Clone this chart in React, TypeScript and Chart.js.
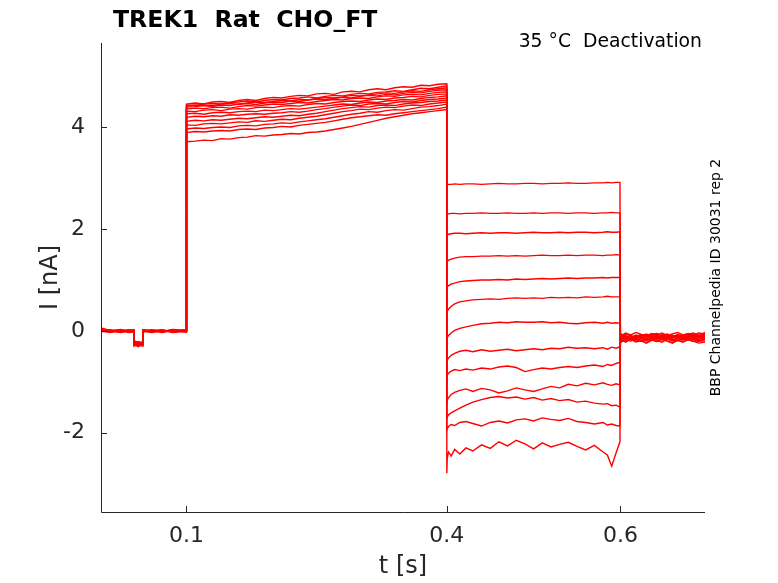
import React, { useEffect, useRef } from "react";
import Chart from "chart.js/auto";

// sample times [s] for each protocol segment
const baseT = [0.0015, 0.012, 0.024, 0.034, 0.0393, 0.0396, 0.0445, 0.0495, 0.0498, 0.06, 0.072, 0.084, 0.0995];
const stepT = [
  0.1, 0.11, 0.12, 0.13, 0.14, 0.15, 0.16, 0.17, 0.18, 0.19, 0.2, 0.21, 0.22, 0.23, 0.24, 0.25,
  0.26, 0.27, 0.28, 0.29, 0.3, 0.31, 0.32, 0.33, 0.34, 0.35, 0.36, 0.37, 0.38, 0.39, 0.4,
];
const deactT = [
  0.4, 0.4005, 0.402, 0.405, 0.409, 0.415, 0.422, 0.43, 0.44, 0.45, 0.46, 0.47, 0.48, 0.49,
  0.5, 0.51, 0.52, 0.53, 0.54, 0.55, 0.56, 0.57, 0.58, 0.585, 0.59, 0.595, 0.5995,
];
const tailT = [
  0.6, 0.601, 0.606, 0.612, 0.618, 0.624, 0.63, 0.636, 0.642, 0.648, 0.654, 0.66, 0.666, 0.672,
  0.678, 0.684, 0.69, 0.6975,
];

// currents [nA], one row per sweep
const baseI = [
  [0.01, -0.02, 0.02, -0.01, 0.0, -0.24, -0.27, -0.22, 0.01, -0.02, 0.01, -0.01, 0.02],
  [-0.01, 0.02, -0.02, 0.01, 0.02, -0.2, -0.24, -0.26, -0.01, 0.02, -0.02, 0.01, -0.01],
  [0.03, 0.0, -0.01, 0.02, -0.01, -0.28, -0.22, -0.25, 0.02, 0.0, -0.03, 0.02, 0.0],
  [0.0, -0.03, 0.01, -0.02, 0.01, -0.22, -0.3, -0.24, -0.02, 0.01, 0.02, -0.02, 0.01],
  [0.06, 0.01, 0.0, 0.01, -0.02, -0.26, -0.25, -0.29, 0.0, -0.03, 0.0, 0.01, -0.02],
  [-0.02, 0.0, 0.03, -0.01, 0.0, -0.19, -0.23, -0.21, 0.01, 0.01, -0.01, 0.03, 0.01],
  [0.02, -0.01, -0.02, 0.0, 0.02, -0.25, -0.28, -0.3, -0.01, -0.02, 0.02, -0.01, 0.0],
  [0.0, 0.02, 0.0, -0.03, -0.01, -0.23, -0.21, -0.26, 0.02, 0.01, -0.02, 0.0, 0.02],
  [0.01, -0.01, 0.01, 0.02, 0.0, -0.3, -0.26, -0.23, 0.0, -0.01, 0.01, -0.03, -0.01],
  [-0.01, 0.01, -0.03, 0.0, 0.01, -0.21, -0.25, -0.28, -0.02, 0.02, 0.0, 0.01, 0.01],
  [0.02, 0.0, 0.02, -0.02, -0.02, -0.27, -0.31, -0.25, 0.01, 0.0, -0.01, 0.02, -0.02],
  [0.0, -0.02, 0.0, 0.01, 0.01, -0.24, -0.22, -0.27, -0.01, -0.01, 0.02, -0.02, 0.0],
  [0.01, 0.01, -0.01, -0.01, 0.0, -0.26, -0.29, -0.24, 0.0, 0.01, -0.01, 0.0, 0.01],
];

const stepI = [
  [4.46, 4.48, 4.46, 4.5, 4.51, 4.49, 4.53, 4.55, 4.53, 4.57, 4.59, 4.58, 4.61, 4.63, 4.62, 4.66, 4.67, 4.65, 4.7, 4.71, 4.7, 4.74, 4.76, 4.74, 4.78, 4.8, 4.79, 4.83, 4.82, 4.85, 4.86],
  [4.44, 4.43, 4.46, 4.47, 4.46, 4.49, 4.5, 4.52, 4.5, 4.53, 4.55, 4.54, 4.57, 4.58, 4.6, 4.58, 4.61, 4.63, 4.62, 4.65, 4.67, 4.66, 4.69, 4.7, 4.72, 4.71, 4.74, 4.77, 4.76, 4.79, 4.82],
  [4.42, 4.44, 4.43, 4.43, 4.46, 4.47, 4.45, 4.48, 4.5, 4.49, 4.51, 4.53, 4.52, 4.55, 4.54, 4.57, 4.59, 4.58, 4.6, 4.63, 4.62, 4.64, 4.66, 4.68, 4.67, 4.7, 4.72, 4.71, 4.74, 4.76, 4.78],
  [4.4, 4.41, 4.43, 4.41, 4.44, 4.43, 4.46, 4.47, 4.45, 4.48, 4.5, 4.49, 4.52, 4.51, 4.54, 4.56, 4.55, 4.57, 4.59, 4.58, 4.61, 4.63, 4.62, 4.65, 4.64, 4.67, 4.69, 4.68, 4.71, 4.73, 4.74],
  [4.36, 4.38, 4.37, 4.39, 4.4, 4.38, 4.41, 4.43, 4.42, 4.44, 4.46, 4.45, 4.47, 4.49, 4.48, 4.51, 4.53, 4.55, 4.54, 4.57, 4.58, 4.57, 4.6, 4.62, 4.61, 4.64, 4.65, 4.64, 4.67, 4.69, 4.7],
  [4.32, 4.31, 4.34, 4.35, 4.33, 4.36, 4.37, 4.36, 4.39, 4.4, 4.39, 4.42, 4.43, 4.42, 4.45, 4.47, 4.46, 4.49, 4.51, 4.52, 4.51, 4.54, 4.56, 4.55, 4.58, 4.59, 4.61, 4.6, 4.63, 4.65, 4.66],
  [4.27, 4.28, 4.26, 4.29, 4.3, 4.29, 4.31, 4.32, 4.31, 4.34, 4.33, 4.35, 4.37, 4.36, 4.38, 4.4, 4.42, 4.44, 4.46, 4.45, 4.48, 4.5, 4.49, 4.52, 4.53, 4.55, 4.54, 4.57, 4.59, 4.6, 4.62],
  [4.2, 4.22, 4.21, 4.23, 4.22, 4.25, 4.24, 4.26, 4.27, 4.26, 4.28, 4.29, 4.31, 4.3, 4.32, 4.35, 4.37, 4.4, 4.42, 4.44, 4.43, 4.46, 4.47, 4.46, 4.49, 4.51, 4.5, 4.53, 4.55, 4.56, 4.58],
  [4.12, 4.14, 4.13, 4.15, 4.14, 4.16, 4.18, 4.17, 4.19, 4.21, 4.2, 4.22, 4.24, 4.23, 4.26, 4.28, 4.31, 4.34, 4.37, 4.39, 4.41, 4.4, 4.43, 4.44, 4.43, 4.46, 4.48, 4.49, 4.51, 4.52, 4.54],
  [4.05, 4.04, 4.07, 4.08, 4.07, 4.09, 4.11, 4.1, 4.13, 4.12, 4.14, 4.16, 4.15, 4.18, 4.2, 4.22, 4.25, 4.28, 4.31, 4.33, 4.36, 4.35, 4.38, 4.4, 4.39, 4.42, 4.44, 4.43, 4.46, 4.48, 4.5],
  [3.97, 3.99, 3.98, 4.0, 4.01, 4.0, 4.03, 4.04, 4.03, 4.06, 4.07, 4.09, 4.08, 4.11, 4.13, 4.15, 4.17, 4.2, 4.23, 4.26, 4.28, 4.31, 4.3, 4.33, 4.35, 4.34, 4.37, 4.4, 4.41, 4.43, 4.46],
  [3.9, 3.92, 3.91, 3.93, 3.94, 3.93, 3.96, 3.97, 3.96, 3.99, 4.0, 4.02, 4.01, 4.04, 4.06, 4.08, 4.1, 4.13, 4.16, 4.19, 4.21, 4.23, 4.25, 4.24, 4.27, 4.29, 4.31, 4.33, 4.35, 4.37, 4.4],
  [3.72, 3.73, 3.75, 3.74, 3.78, 3.77, 3.8, 3.81, 3.84, 3.83, 3.85, 3.86, 3.88, 3.87, 3.9, 3.91, 3.93, 3.96, 3.99, 4.02, 4.06, 4.1, 4.14, 4.18, 4.21, 4.24, 4.27, 4.29, 4.31, 4.33, 4.35],
];

const deactI = [
  [2.86, 2.87, 2.88, 2.88, 2.89, 2.88, 2.89, 2.89, 2.88, 2.89, 2.9, 2.89, 2.89, 2.9, 2.9, 2.89, 2.9, 2.9, 2.91, 2.9, 2.9, 2.91, 2.91, 2.92, 2.91, 2.92, 2.92],
  [2.28, 2.29, 2.3, 2.31, 2.31, 2.3, 2.31, 2.31, 2.32, 2.31, 2.31, 2.32, 2.31, 2.31, 2.32, 2.31, 2.32, 2.32, 2.31, 2.32, 2.32, 2.31, 2.32, 2.32, 2.33, 2.32, 2.32],
  [1.86, 1.88, 1.9, 1.91, 1.92, 1.92, 1.91, 1.92, 1.93, 1.92, 1.93, 1.93, 1.92, 1.93, 1.94, 1.93, 1.93, 1.94, 1.93, 1.94, 1.94, 1.93, 1.94, 1.95, 1.94, 1.94, 1.95],
  [1.36, 1.37, 1.39, 1.41, 1.43, 1.45, 1.46, 1.46, 1.47, 1.47, 1.48, 1.47, 1.48, 1.47, 1.48, 1.49, 1.48, 1.48, 1.49, 1.48, 1.49, 1.49, 1.48, 1.49, 1.49, 1.5, 1.49],
  [0.85, 0.87, 0.89, 0.92, 0.94, 0.97, 0.98, 0.99, 1.0, 1.0, 1.01, 1.0, 1.02, 1.01, 1.02, 1.03, 1.02, 1.03, 1.04, 1.03, 1.04, 1.04, 1.05, 1.04, 1.05, 1.05, 1.05],
  [0.36, 0.39, 0.43, 0.48, 0.53, 0.57, 0.59, 0.61, 0.62, 0.63, 0.62, 0.64, 0.65, 0.64, 0.65, 0.64, 0.66, 0.65, 0.66, 0.65, 0.67, 0.66, 0.67, 0.68, 0.67, 0.67, 0.67],
  [-0.16, -0.13, -0.09, -0.04, 0.01, 0.05, 0.08, 0.11, 0.14, 0.15, 0.17, 0.16, 0.18, 0.17, 0.17, 0.18, 0.16, 0.17, 0.15, 0.14, 0.16, 0.17, 0.15, 0.17, 0.15, 0.16, 0.15],
  [-0.6, -0.57, -0.53, -0.48, -0.44, -0.4, -0.38, -0.41, -0.37, -0.4, -0.38, -0.36, -0.39, -0.37, -0.35, -0.37, -0.34, -0.35, -0.32, -0.34, -0.33, -0.35, -0.33, -0.36, -0.32, -0.34, -0.31],
  [-0.9, -0.87, -0.83, -0.79, -0.76, -0.78, -0.75, -0.77, -0.73, -0.75, -0.71, -0.69, -0.72, -0.8, -0.76, -0.73, -0.75, -0.72, -0.7, -0.72, -0.69, -0.67, -0.7, -0.66, -0.68, -0.64, -0.62],
  [-1.4, -1.36, -1.31, -1.25, -1.21, -1.17, -1.14, -1.19, -1.13, -1.16, -1.22, -1.18, -1.12, -1.16, -1.19, -1.14, -1.09, -1.12, -1.05, -1.08, -1.03, -1.06, -1.02, -1.05, -1.07, -1.04, -1.06],
  [-1.72, -1.69, -1.65, -1.61, -1.57, -1.52, -1.46, -1.4, -1.35, -1.31, -1.29, -1.32, -1.3, -1.34, -1.31, -1.36, -1.33, -1.37, -1.35, -1.4, -1.38, -1.42, -1.44, -1.43, -1.47, -1.46, -1.5],
  [-1.95, -1.92, -1.88, -1.84, -1.86, -1.8, -1.78, -1.82, -1.87, -1.8, -1.77, -1.81, -1.75, -1.73, -1.77, -1.71, -1.74, -1.76, -1.72, -1.78, -1.8, -1.83, -1.8, -1.85, -1.83, -1.86, -1.87],
  [-2.8, -2.5, -2.38, -2.46, -2.33, -2.42, -2.3, -2.36, -2.24, -2.31, -2.18, -2.26, -2.15, -2.22, -2.32, -2.2, -2.28, -2.23, -2.19, -2.27, -2.34, -2.25, -2.38, -2.44, -2.66, -2.4, -2.18],
];

const tailI = [
  [-0.05, -0.09, -0.04, -0.08, -0.03, -0.07, -0.1, -0.05, -0.08, -0.04, -0.09, -0.06, -0.03, -0.08, -0.05, -0.09, -0.04, -0.06],
  [-0.12, -0.08, -0.13, -0.09, -0.14, -0.1, -0.06, -0.11, -0.08, -0.13, -0.09, -0.12, -0.07, -0.1, -0.13, -0.08, -0.11, -0.09],
  [-0.15, -0.11, -0.16, -0.12, -0.09, -0.14, -0.11, -0.15, -0.1, -0.13, -0.16, -0.11, -0.14, -0.09, -0.12, -0.15, -0.1, -0.12],
  [-0.08, -0.13, -0.09, -0.14, -0.11, -0.07, -0.12, -0.09, -0.14, -0.1, -0.07, -0.13, -0.1, -0.14, -0.09, -0.12, -0.08, -0.11],
  [-0.19, -0.14, -0.18, -0.13, -0.17, -0.12, -0.16, -0.19, -0.13, -0.16, -0.12, -0.17, -0.14, -0.11, -0.16, -0.13, -0.17, -0.14],
  [-0.1, -0.06, -0.11, -0.15, -0.09, -0.13, -0.08, -0.12, -0.16, -0.1, -0.14, -0.09, -0.13, -0.17, -0.11, -0.06, -0.1, -0.03],
  [-0.21, -0.17, -0.22, -0.16, -0.2, -0.15, -0.19, -0.14, -0.18, -0.22, -0.16, -0.19, -0.15, -0.18, -0.13, -0.17, -0.14, -0.12],
  [-0.07, -0.11, -0.06, -0.1, -0.14, -0.08, -0.12, -0.07, -0.05, -0.1, -0.06, -0.11, -0.08, -0.12, -0.07, -0.04, -0.09, -0.07],
  [-0.16, -0.12, -0.18, -0.13, -0.17, -0.21, -0.15, -0.19, -0.14, -0.18, -0.13, -0.17, -0.2, -0.15, -0.18, -0.14, -0.19, -0.16],
  [-0.13, -0.18, -0.12, -0.16, -0.11, -0.15, -0.19, -0.13, -0.17, -0.12, -0.16, -0.2, -0.14, -0.18, -0.13, -0.17, -0.21, -0.17],
  [-0.23, -0.18, -0.21, -0.17, -0.22, -0.19, -0.24, -0.18, -0.21, -0.16, -0.2, -0.23, -0.18, -0.22, -0.17, -0.2, -0.24, -0.22],
  [-0.11, -0.15, -0.1, -0.14, -0.08, -0.12, -0.16, -0.1, -0.13, -0.07, -0.11, -0.15, -0.09, -0.12, -0.06, -0.1, -0.13, -0.15],
  [-0.18, -0.22, -0.16, -0.2, -0.15, -0.19, -0.23, -0.17, -0.21, -0.16, -0.2, -0.24, -0.18, -0.22, -0.17, -0.21, -0.19, -0.2],
];

const xTicks = [0.1, 0.4, 0.6];
const xTickLabels = ["0.1", "0.4", "0.6"];
const yTicks = [-2, 0, 2, 4];
const yTickLabels = ["-2", "0", "2", "4"];

const TITLE = "TREK1  Rat  CHO_FT";
const SUBTITLE = "35 °C  Deactivation";
const SIDE_NOTE = "BBP Channelpedia ID 30031 rep 2";

const FONT = "'DejaVu Sans', sans-serif";
const AXIS_COLOR = "#262626";

const decorPlugin = {
  id: "decor",
  afterDraw(chart: any) {
    const { ctx, chartArea: a, scales } = chart;
    ctx.save();
    // box-off axes with inward ticks
    ctx.strokeStyle = AXIS_COLOR;
    ctx.lineWidth = 1;
    ctx.beginPath();
    ctx.moveTo(a.left + 0.5, a.top);
    ctx.lineTo(a.left + 0.5, a.bottom + 0.5);
    ctx.lineTo(a.right, a.bottom + 0.5);
    scales.x.ticks.forEach((t: any) => {
      const px = Math.round(scales.x.getPixelForValue(t.value)) + 0.5;
      ctx.moveTo(px, a.bottom);
      ctx.lineTo(px, a.bottom - 6);
    });
    scales.y.ticks.forEach((t: any) => {
      const py = Math.round(scales.y.getPixelForValue(t.value)) + 0.5;
      ctx.moveTo(a.left, py);
      ctx.lineTo(a.left + 6, py);
    });
    ctx.stroke();

    ctx.fillStyle = "#000";
    ctx.font = `bold 23.6px ${FONT}`;
    ctx.textAlign = "left";
    ctx.textBaseline = "alphabetic";
    ctx.fillText(TITLE, 113, 27);

    ctx.font = `18.8px ${FONT}`;
    ctx.textAlign = "right";
    ctx.fillText(SUBTITLE, 702, 47);

    ctx.fillStyle = AXIS_COLOR;
    ctx.font = `24px ${FONT}`;
    ctx.textAlign = "center";
    ctx.textBaseline = "middle";
    ctx.fillText("t [s]", (a.left + a.right) / 2, 567);

    ctx.save();
    ctx.translate(51, (a.top + a.bottom) / 2);
    ctx.rotate(-Math.PI / 2);
    ctx.fillText("I [nA]", 0, 0);
    ctx.restore();

    ctx.save();
    ctx.fillStyle = "#000";
    ctx.font = `14px ${FONT}`;
    ctx.translate(716, (a.top + a.bottom) / 2);
    ctx.rotate(-Math.PI / 2);
    ctx.fillText(SIDE_NOTE, 0, 0);
    ctx.restore();

    ctx.restore();
  },
};

export default function App() {
  const canvasRef = useRef<HTMLCanvasElement>(null);

  useEffect(() => {
    document.body.style.margin = "0";
    if (!canvasRef.current) return;

    const datasets = stepI.map((_, i) => {
      const pts = [
        ...baseT.map((t, k) => ({ x: t, y: baseI[i][k] })),
        ...stepT.map((t, k) => ({ x: t, y: stepI[i][k] })),
        ...deactT.map((t, k) => ({ x: t, y: deactI[i][k] })),
        ...tailT.map((t, k) => ({ x: t, y: tailI[i][k] })),
      ];
      return {
        data: pts,
        borderColor: "#ff0000",
        borderWidth: 1.4,
        pointRadius: 0,
        tension: 0,
        fill: false,
      };
    });

    const chart = new Chart(canvasRef.current, {
      type: "line",
      data: { datasets },
      options: {
        animation: false,
        responsive: false,
        layout: { padding: { left: 0, top: 43, right: 73, bottom: 0 } },
        plugins: { legend: { display: false }, tooltip: { enabled: false } },
        scales: {
          x: {
            type: "linear",
            min: 0.0015,
            max: 0.6975,
            grid: { display: false, drawTicks: false },
            border: { display: false },
            afterBuildTicks: (s: any) => {
              s.ticks = xTicks.map((v) => ({ value: v }));
            },
            afterFit: (s: any) => {
              s.height = 71;
            },
            ticks: {
              padding: 11,
              color: AXIS_COLOR,
              font: { family: FONT, size: 22 },
              maxRotation: 0,
              callback: (_v: any, i: number) => xTickLabels[i],
            },
          },
          y: {
            type: "linear",
            min: -3.56,
            max: 5.66,
            grid: { display: false, drawTicks: false },
            border: { display: false },
            afterBuildTicks: (s: any) => {
              s.ticks = yTicks.map((v) => ({ value: v }));
            },
            afterFit: (s: any) => {
              s.width = 101;
            },
            ticks: {
              padding: 16,
              color: AXIS_COLOR,
              font: { family: FONT, size: 22 },
              callback: (_v: any, i: number) => yTickLabels[i],
            },
          },
        },
      },
      plugins: [decorPlugin],
    });

    return () => chart.destroy();
  }, []);

  return (
    <div style={{ width: 778, height: 583, background: "#fff" }}>
      <canvas ref={canvasRef} width={778} height={583} />
    </div>
  );
}
